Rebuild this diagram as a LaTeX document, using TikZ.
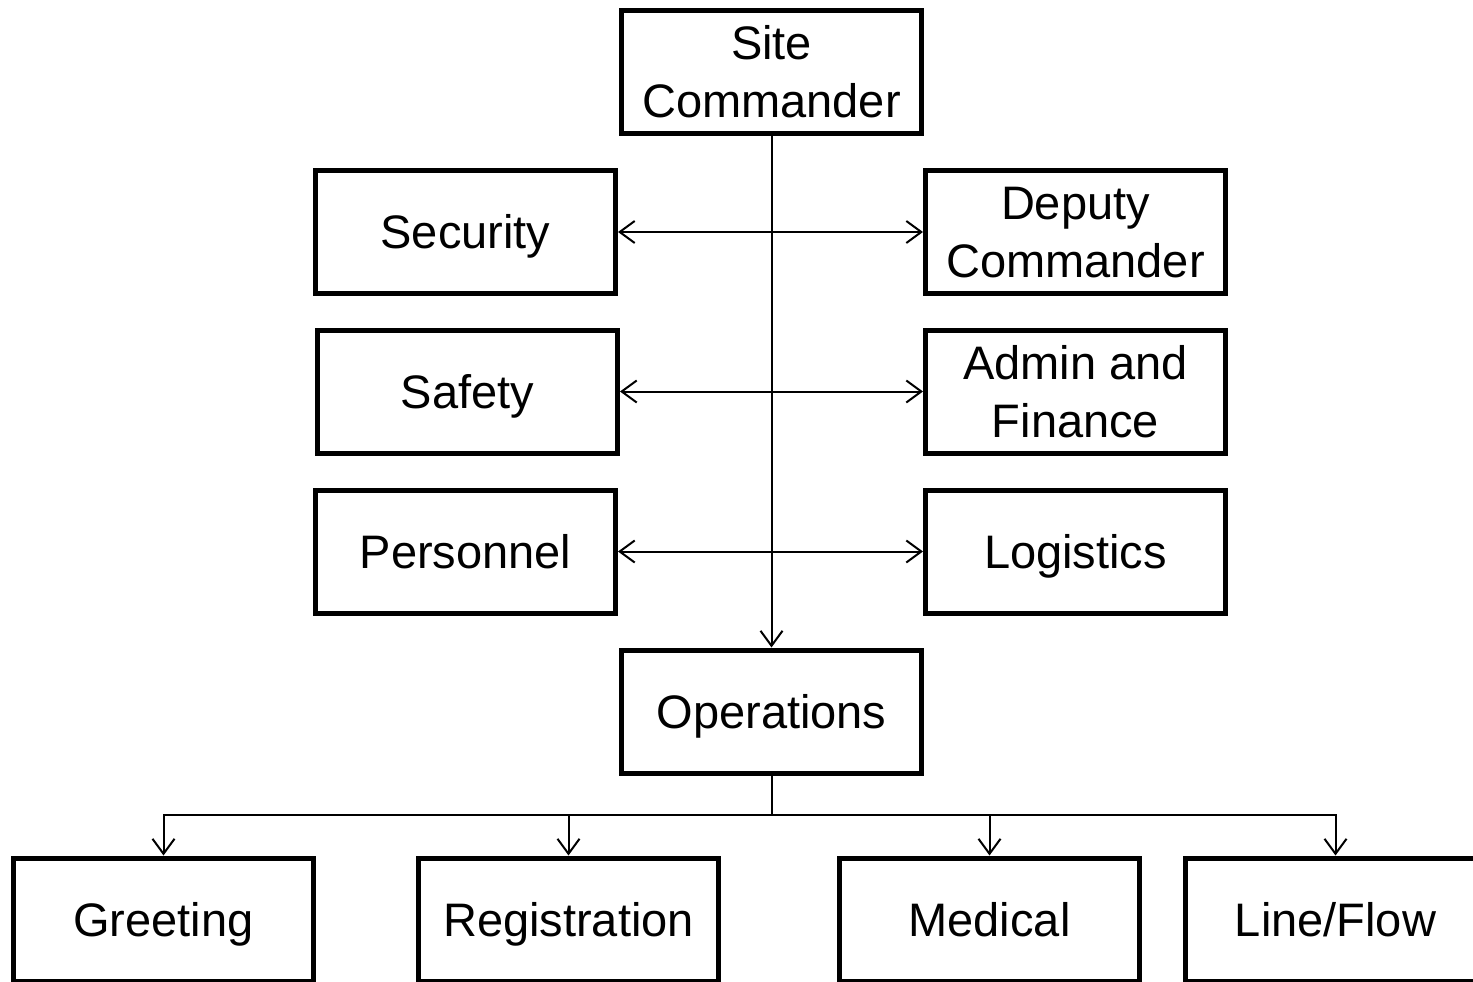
\documentclass[tikz,border=0pt]{standalone}
\usepackage{fontspec}
\setmainfont{Liberation Sans}
\usetikzlibrary{arrows.meta}
% fixed-height strut (44pt above, 10.4pt below the baseline) so every label sits alike
\newcommand{\boxstrut}{\rule[-10.4pt]{0pt}{54.4pt}}
\begin{document}
\begin{tikzpicture}[x=1pt,y=-1pt,
  box/.style={draw=black, line width=5pt, minimum width=300pt, minimum height=123pt,
    inner sep=0pt, align=center, font=\fontsize{47}{58}\selectfont,
    execute at begin node=\boxstrut, execute at end node=\boxstrut},
  link/.style={line width=2pt, -{Straight Barb[length=15pt,width=22pt,line width=2pt]}},
  dlink/.style={line width=2pt, {Straight Barb[length=15pt,width=22pt,line width=2pt]}-{Straight Barb[length=15pt,width=22pt,line width=2pt]}}]
\useasboundingbox (0,0) rectangle (1473,982);
\clip (0,0) rectangle (1473,982);
% command staff (two-line labels carry the strut on their first line too)
\node[box] (site) at (771.5,72) {\boxstrut Site\\Commander};
\node[box] (sec) at (465.5,232) {Security};
\node[box] (dep) at (1075.5,232) {\boxstrut Deputy\\Commander};
\node[box] (saf) at (467.5,391.5) {Safety};
\node[box] (adm) at (1075.5,391.5) {\boxstrut Admin and\\Finance};
\node[box] (per) at (465.5,551.5) {Personnel};
\node[box] (log) at (1075.5,551.5) {Logistics};
\node[box] (ops) at (771.5,711.5) {Operations};
% operations branches
\node[box] (greet) at (163.5,919.5) {Greeting};
\node[box] (reg) at (568.5,919.5) {Registration};
\node[box] (med) at (989.5,919.5) {Medical};
\node[box] (line) at (1335.5,919.5) {Line/Flow};
% connectors
\draw[link] (site.south) -- (ops.north);
\draw[dlink] (sec.east) -- (dep.west);
\draw[dlink] (saf.east |- adm.west) -- (adm.west);
\draw[dlink] (per.east) -- (log.west);
\coordinate (bus) at (771.5,815);
\draw[line width=2pt] (ops.south) -- (bus);
\draw[line width=2pt] (bus -| greet.north) -- (bus -| line.north);
\draw[link] (bus) -| (greet.north);
\draw[link] (bus) -| (reg.north);
\draw[link] (bus) -| (med.north);
\draw[link] (bus) -| (line.north);
\end{tikzpicture}
\end{document}
